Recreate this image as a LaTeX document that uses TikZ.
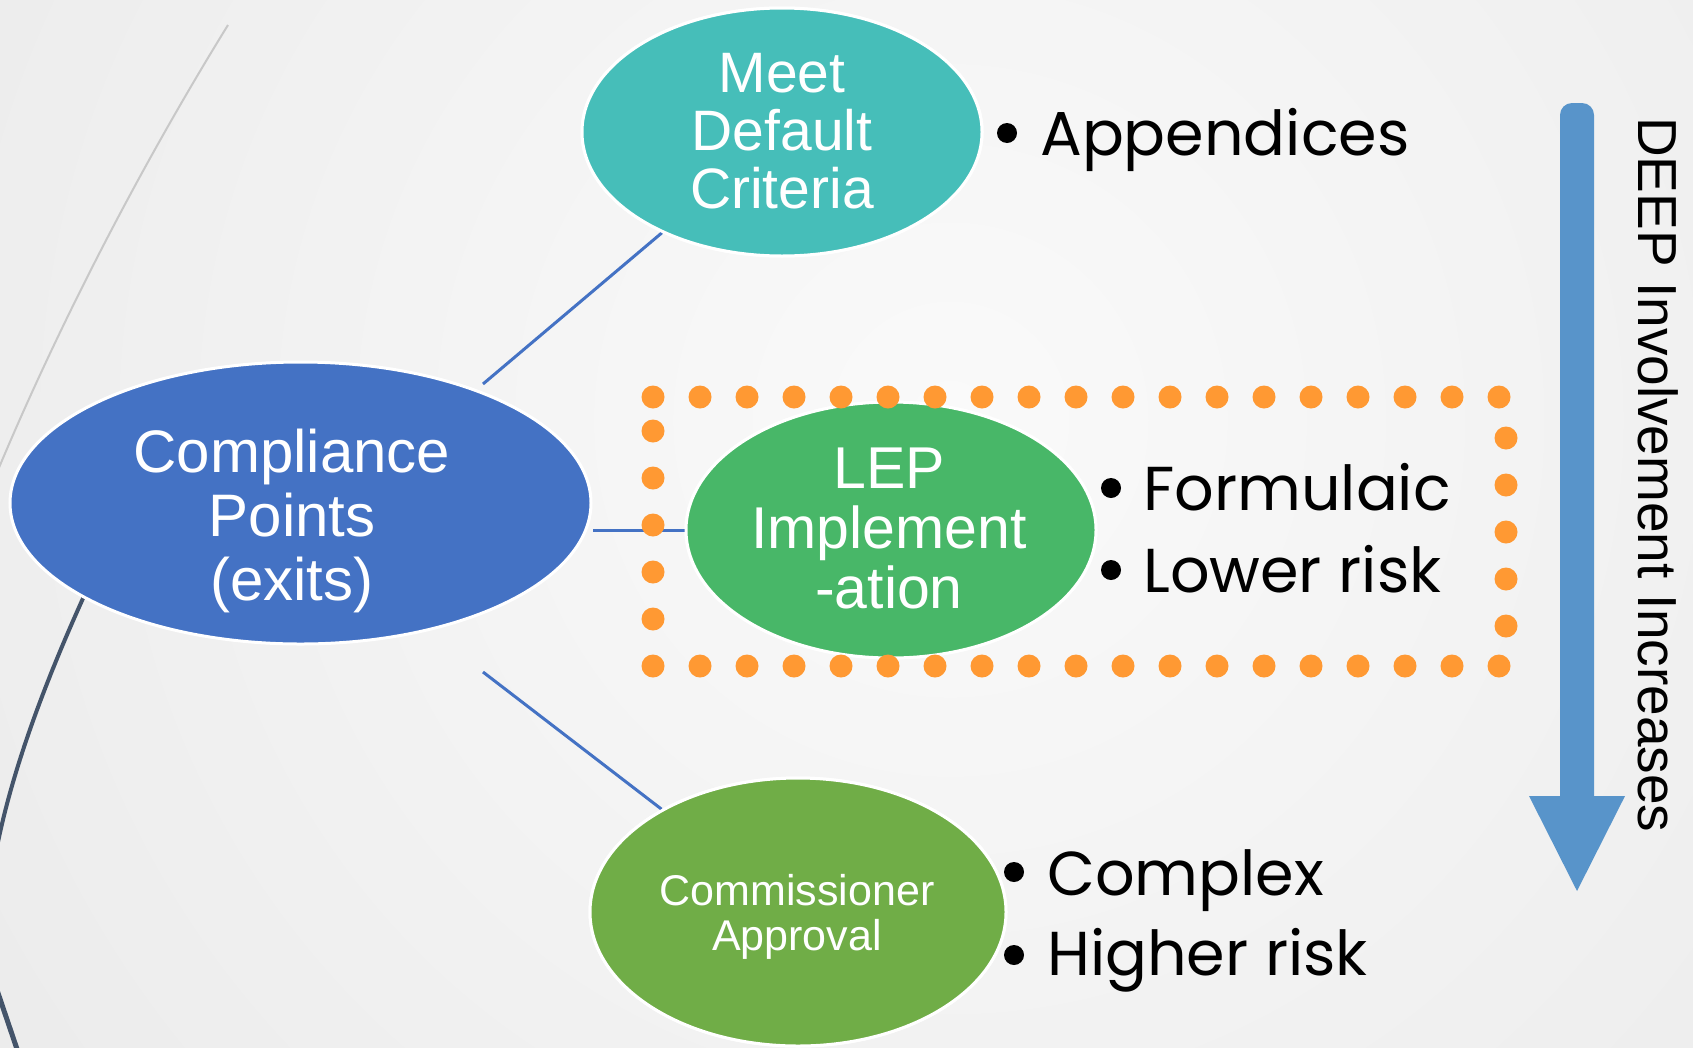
\documentclass[tikz,border=0pt]{standalone}
\usepackage{fontspec}
\setmainfont{Liberation Sans}
\newfontfamily\gothic{Poppins}
\usetikzlibrary{shapes.geometric,calc}
\definecolor{bgin}{RGB}{250,250,250}
\definecolor{bgout}{RGB}{226,226,226}
\definecolor{compblue}{RGB}{68,114,196}
\definecolor{meetteal}{RGB}{70,190,185}
\definecolor{lepgreen}{RGB}{72,183,104}
\definecolor{commgreen}{RGB}{112,173,71}
\definecolor{linkblue}{RGB}{68,114,196}
\definecolor{dotorange}{RGB}{255,153,51}
\definecolor{arrowblue}{RGB}{88,148,202}
\definecolor{darkarc}{RGB}{68,84,106}
\definecolor{lightarc}{RGB}{200,200,200}
\tikzset{
  blob/.style={ellipse, draw=white, line width=3pt, inner sep=0pt},
  conn/.style={draw=linkblue, line width=3pt},
  intext/.style={text=white, align=center, inner sep=0pt},
  btext/.style={anchor=base west, inner sep=0pt, font=\gothic\fontsize{62}{74}\selectfont},
  orangedot/.style={fill=dotorange},
  bulletdot/.style={fill=black}
}
\begin{document}
\begin{tikzpicture}[x=1pt,y=-1pt]
\useasboundingbox (0,0) rectangle (1693,1047);
% background
\begin{scope}
  \clip (0,0) rectangle (1693,1047);
  \shade[inner color=bgin, outer color=bgout] (950,420) circle (1900pt);
  % decorative arcs
  \draw[lightarc, line width=2pt] (228,25) .. controls (128,187) and (50,346) .. (-2,470);
  \draw[darkarc, line width=4pt] (90,583) .. controls (50,670) and (15,760) .. (-2,842);
  \draw[darkarc, line width=5pt] (-3,990) -- (18,1052);
\end{scope}

% connector end points
\coordinate (t1) at (483,384);
\coordinate (b1) at (483,672);

% ellipses
\node[blob, fill=compblue, minimum width=581pt, minimum height=282pt] (comp) at (300.5,503) {};
\node[blob, fill=meetteal, minimum width=400pt, minimum height=248pt] (meet) at (782,132) {};
\node[blob, fill=lepgreen, minimum width=410pt, minimum height=256pt] (lep) at (891,530) {};
\node[blob, fill=commgreen, minimum width=416pt, minimum height=268pt] (comm) at (798,912) {};

% connectors
\draw[conn] (t1) -- (meet.220);
\draw[conn] (lep.west) -- (lep.west -| comp.east);
\draw[conn] (b1) -- (comm.143);

% ellipses drawn again over the connector ends
\node[blob, fill=meetteal, minimum width=400pt, minimum height=248pt] at (meet) {};
\node[blob, fill=lepgreen, minimum width=410pt, minimum height=256pt] at (lep) {};
\node[blob, fill=commgreen, minimum width=416pt, minimum height=268pt] at (comm) {};

% ellipse texts
\node[intext, font=\fontsize{60}{64}\selectfont] (tcomp) at (292,521) {Compliance\\Points\\(exits)};
\node[intext, font=\fontsize{57}{58}\selectfont] (tmeet) at (782,131) {Meet\\Default\\Criteria};
\node[intext, font=\fontsize{59}{60}\selectfont] (tlep) at (889,528) {LEP\\Implement\\-ation};
\node[intext, font=\fontsize{43}{45}\selectfont] (tcomm) at (797,917) {Commissioner\\Approval};

% dotted frame
\foreach \i in {0,...,18} {
  \fill[orangedot] ({653+47*\i},397) circle (11.5pt);
  \fill[orangedot] ({653+47*\i},666) circle (11.5pt);
}
\foreach \k in {0,...,4} {
  \fill[orangedot] (653,{431+47*\k}) circle (11.5pt);
  \fill[orangedot] (1506,{438+47*\k}) circle (11.5pt);
}

% bullet lists
\fill[bulletdot] (1007,133) circle (10pt);
\node[btext] (bapp) at (1040,155) {Appendices};
\fill[bulletdot] (1111,488) circle (10pt);
\node[btext] (bform) at (1143,510) {Formulaic};
\fill[bulletdot] (1111,570) circle (10pt);
\node[btext] (blow) at (1143,592) {Lower risk};
\fill[bulletdot] (1014,872) circle (10pt);
\node[btext] (bcomp) at (1047,895) {Complex};
\fill[bulletdot] (1014,955) circle (10pt);
\node[btext] (bhigh) at (1047,975) {Higher risk};

% arrow
\fill[arrowblue] (1529,796) -- (1560,796) [rounded corners=12pt] -- (1560,103) -- (1594,103) [sharp corners] -- (1594,796) -- (1625,796) -- (1577,891) -- cycle;
\node[rotate=-90, anchor=base west, inner sep=0pt, font=\fontsize{55}{60}\selectfont] (deep) at (1638,117) {DEEP Involvement Increases};
\end{tikzpicture}
\end{document}
